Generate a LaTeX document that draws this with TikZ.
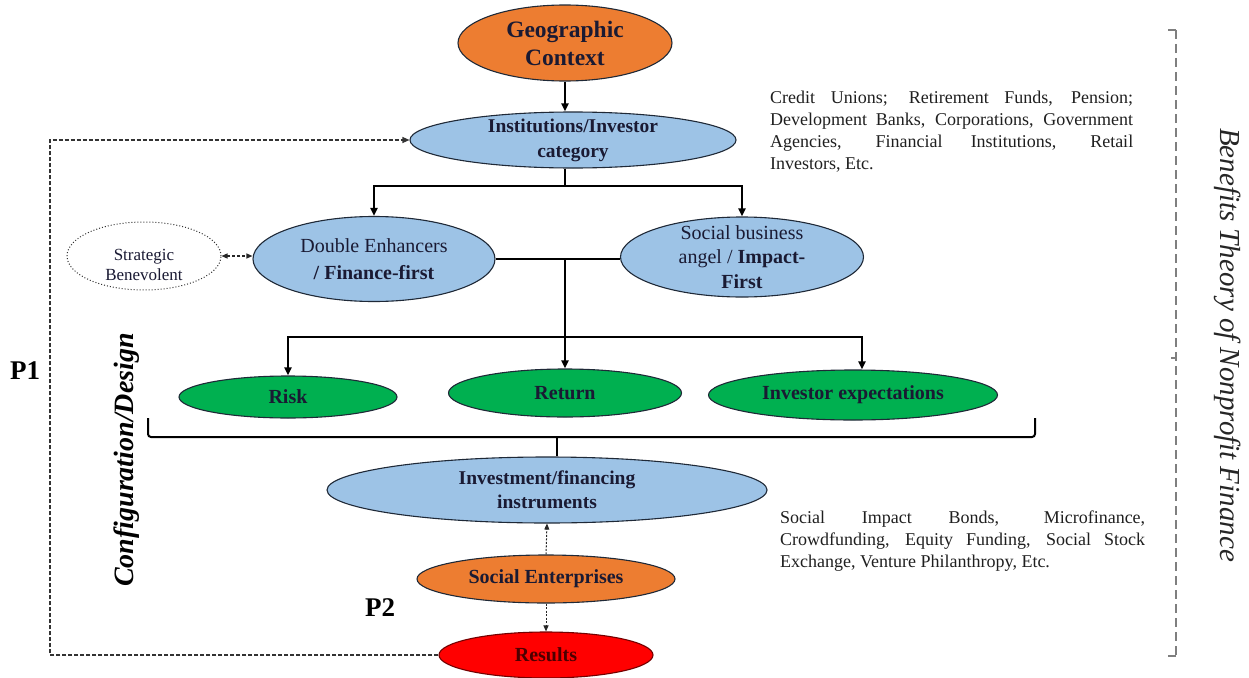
\documentclass[tikz,border=0pt]{standalone}
\usepackage{fontspec}
\setmainfont{Liberation Serif}
\usetikzlibrary{shapes.geometric,arrows.meta,calc}
\definecolor{orangeF}{HTML}{ED7D31}
\definecolor{blueF}{HTML}{9DC3E6}
\definecolor{greenF}{HTML}{00B050}
\definecolor{redF}{HTML}{FF0000}
\definecolor{edgeC}{HTML}{1F2937}
\definecolor{labelC}{HTML}{1A1A33}
\definecolor{greyC}{HTML}{7F7F7F}
\begin{document}
\begin{tikzpicture}[x=1pt,y=-1pt,
  ell/.style={ellipse, draw=edgeC, line width=1.1pt, inner sep=0pt},
  lbl/.style={text=labelC, align=center, inner sep=0pt},
  conn/.style={line width=2.2pt, black},
  arr/.style={conn, -{Triangle[length=8pt,width=7pt]}},
  dotarr/.style={line width=1pt, black!85, dash pattern=on 2pt off 1.5pt, -{Triangle[length=6pt,width=5pt]}},
  fb/.style={line width=1.3pt, black!80, dash pattern=on 4pt off 2pt},
  bodytext/.style={anchor=base west, inner sep=0pt, text=black!88, font=\fontsize{18}{22}\selectfont},
  bigb/.style={font=\fontsize{20}{24}\selectfont\bfseries}
]
\useasboundingbox (0,0) rectangle (1249,677);

% ellipses
\node[ell, fill=orangeF, minimum width=214pt, minimum height=76pt] (geo) at (565,43) {};
\node[lbl, font=\fontsize{23.5}{28}\selectfont\bfseries] (geoT) at (geo) {Geographic\\Context};

\node[ell, fill=blueF, minimum width=326pt, minimum height=56pt] (inst) at (573,140) {};
\node[lbl, font=\fontsize{19.5}{25}\selectfont\bfseries] (instT) at (inst) {Institutions/Investor\\category};

\node[ell, fill=blueF, minimum width=242pt, minimum height=85pt] (de) at (374,259) {};
\node[lbl, font=\fontsize{20}{27}\selectfont] (deT) at (de) {Double Enhancers\\\textbf{/ Finance-first}};

\node[ell, fill=blueF, minimum width=243pt, minimum height=80pt] (sb) at (742,257) {};
\node[lbl, font=\fontsize{20}{24.5}\selectfont] (sbT) at (sb) {Social business\\angel / \textbf{Impact-}\\\textbf{First}};

\node[ellipse, draw=black!80, line width=1pt, dotted, fill=white, minimum width=154pt, minimum height=68pt, inner sep=0pt] (sbv) at (144,256) {};
\node[lbl, font=\fontsize{17}{20}\selectfont] (sbvT) at (144,265) {Strategic\\Benevolent};

\node[ell, fill=greenF, minimum width=218pt, minimum height=42pt] (risk) at (288,397) {};
\node[lbl, bigb] (riskT) at (risk) {Risk};
\node[ell, fill=greenF, minimum width=233pt, minimum height=48pt] (ret) at (565,393) {};
\node[lbl, bigb] (retT) at (ret) {Return};
\node[ell, fill=greenF, minimum width=289pt, minimum height=50pt] (invexp) at (853,395) {};
\node[lbl, bigb] (invexpT) at (invexp) {Investor expectations};

\node[ell, fill=blueF, minimum width=440pt, minimum height=66pt] (inv) at (547,490) {};
\node[lbl, font=\fontsize{19.5}{24}\selectfont\bfseries] (invT) at (inv) {Investment/financing\\instruments};

\node[ell, fill=orangeF, minimum width=258pt, minimum height=48pt] (se) at (546,579) {};
\node[lbl, bigb] (seT) at (se) {Social Enterprises};

\node[ellipse, draw=red!45!black, line width=1.1pt, fill=redF, minimum width=214pt, minimum height=46pt, inner sep=0pt] (res) at (546,655) {};
\node[lbl, bigb, text=red!30!black] (resT) at (res) {Results};

% tree connectors
\draw[arr] (geo.south) -- (geo.south |- inst.north);
\coordinate (b1) at (565,186);
\draw[conn] (b1 |- inst.south) -- (b1);
\draw[arr] (b1) -| (de.north);
\draw[arr] (b1) -| (sb.north);
\draw[conn] (de.east) -- (de.east -| sb.west);
\coordinate (b2) at (565,337);
\draw[conn] (b2 |- de.east) -- (b2);
\draw[arr] (b2) -| (risk.north);
\draw[arr] (b2) -- (ret.north);
\draw[arr] (b2) -| ($(invexp.north)+(9,0)$);

% bracket
\coordinate (brL) at (148,418);
\coordinate (brR) at (1035,418);
\coordinate (brM) at (557,437);
\draw[conn, line width=2pt, rounded corners=3pt] (brL) |- (brM) -| (brR);
\draw[conn, line width=2pt] (brM) -- (brM |- inv.north);

% dotted arrows
\draw[dotarr] (se.north) -- (inv.south);
\draw[dotarr] (se.south) -- (res.north);
\draw[line width=1.1pt, black!85, dash pattern=on 3pt off 2pt, {Triangle[length=6pt,width=5pt]}-{Triangle[length=6pt,width=5pt]}] (sbv.east) -- (sbv.east -| de.west);

% feedback loop
\coordinate (fbc) at (50,655);
\draw[fb, -{Triangle[length=7pt,width=6pt]}] (res.west) -- (fbc) |- (inst.west);

% labels
\node[font=\fontsize{27}{30}\selectfont\bfseries, inner sep=0pt] (p1) at (25,371) {P1};
\node[font=\fontsize{27}{30}\selectfont\bfseries, inner sep=0pt] (p2) at (380,608) {P2};
\node[rotate=90, font=\fontsize{28}{30}\selectfont\bfseries\itshape, inner sep=0pt] (cfg) at (127,460) {Configuration/Design};
\node[rotate=-90, font=\fontsize{29}{30}\selectfont\itshape, text=black!85, inner sep=0pt] (ben) at (1228,345) {Benefits Theory of Nonprofit Finance};

% right dashed bracket
\coordinate (rbT) at (1176,30);
\coordinate (rbB) at (1176,656);
\draw[greyC, line width=1.3pt, dash pattern=on 9pt off 5pt] (rbT) -- (rbB);
\draw[greyC, line width=1.3pt] (rbT) -- ++(-8,0);
\draw[greyC, line width=1.3pt] (rbB) -- ++(-8,0);
\draw[greyC, line width=1.3pt] (1176,358) -- ++(-5,0);

% text blocks
\node[bodytext] (credit) at (770,103) {\parbox[t]{363pt}{\hyphenpenalty=10000 Credit Unions; Retirement Funds, Pension;\linebreak Development Banks, Corporations, Government\linebreak Agencies, Financial Institutions, Retail\linebreak Investors, Etc.}};
\node[bodytext] (instr) at (780,523) {\parbox[t]{365pt}{\hyphenpenalty=10000 Social Impact Bonds, Microfinance,\linebreak Crowdfunding, Equity Funding, Social Stock\linebreak Exchange, Venture Philanthropy, Etc.}};
\end{tikzpicture}
\end{document}
